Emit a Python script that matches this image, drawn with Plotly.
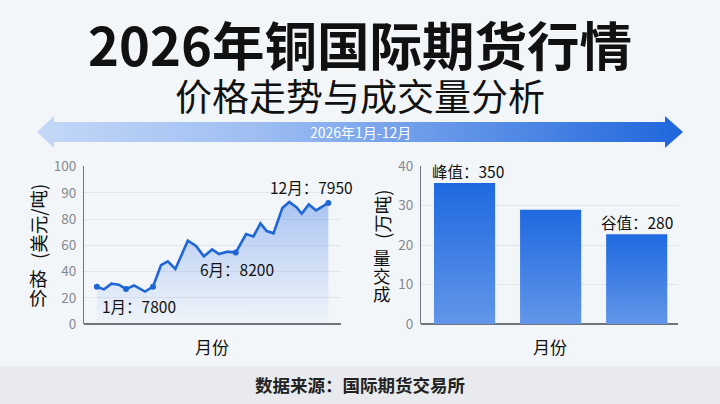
import plotly.graph_objects as go

# values
months = [0.99, 1.33, 1.68, 2.03, 2.37, 2.75, 3.27, 3.65, 4.03, 4.35, 4.71, 5.30, 5.69, 6.06,
          6.45, 6.78, 7.18, 7.57, 8.06, 8.41, 8.74, 9.04, 9.36, 9.78, 10.11, 10.46, 10.70, 11.03, 11.38, 11.96]
prices = [23.6, 21.9, 25.5, 24.9, 22.1, 24.4, 20.5, 23.6, 37.3, 39.7, 34.8, 52.7, 49.4, 42.8,
          47.2, 44.3, 45.8, 45.2, 56.9, 55.4, 63.7, 58.8, 57.4, 73.4, 77.2, 73.8, 69.8, 75.7, 71.9, 76.6]
volumes = [35.7, 28.9, 22.7]
bar_slots = [0, 1, 2]
price_ticks = [0, 20, 40, 60, 80, 90, 100]
price_tick_pos = [0, 16.6, 33.2, 49.8, 66.4, 83, 100]
volume_ticks = [0, 10, 20, 30, 40]
marked = [0, 4, 7, 17, 29]

TEXT = "#111111"
GREY = "#85898f"
FONT = "Noto Sans CJK SC"

fig = go.Figure()
fig.add_trace(go.Scatter(x=months, y=prices, mode="lines", fill="tozeroy",
                         line=dict(color="#1f66d6", width=2.6),
                         fillgradient=dict(type="vertical", colorscale=[[0, "rgba(120,165,240,0.03)"], [1, "rgba(96,145,235,0.5)"]]),
                         xaxis="x", yaxis="y", hoverinfo="skip"))
fig.add_trace(go.Scatter(x=[months[i] for i in marked], y=[prices[i] for i in marked], mode="markers",
                         marker=dict(color="#1f66d6", size=6), xaxis="x", yaxis="y"))
fig.add_trace(go.Bar(x=bar_slots, y=volumes, width=0.71, marker=dict(color="#1f69e0", line_width=0),
                     xaxis="x2", yaxis="y2"))
# lighter towards the foot of each bar
for slot, v in zip(bar_slots, volumes):
    fig.add_trace(go.Scatter(x=[slot - 0.355, slot - 0.355, slot + 0.355, slot + 0.355, slot - 0.355],
                             y=[0, v, v, 0, 0], mode="none", fill="toself",
                             fillgradient=dict(type="vertical", colorscale=[[0, "rgba(255,255,255,0.3)"], [1, "rgba(255,255,255,0)"]]),
                             xaxis="x2", yaxis="y2", hoverinfo="skip"))

# page overlay in pixels, for the arrow
arrow_x = [37, 54, 54, 665, 665, 683, 665, 665, 54, 54, 37]
arrow_y = [132, 116, 122, 122, 116, 132, 148, 142, 142, 148, 132]
fig.add_trace(go.Scatter(x=arrow_x, y=arrow_y, mode="none", fill="toself", xaxis="x3", yaxis="y3",
                         fillgradient=dict(type="horizontal", colorscale=[[0, "#c4d8f7"], [0.35, "#9dbdf2"], [1, "#1f66dc"]]),
                         hoverinfo="skip"))


def note(text, x, y, size, color=TEXT, bold=False, angle=0):
    fig.add_annotation(text=f"<b>{text}</b>" if bold else text, x=x, y=y, xref="x3", yref="y3", showarrow=False,
                       font=dict(family=FONT, size=size, color=color), textangle=angle, align="center")


note("2026年铜国际期货行情", 360, 43, 52.5, bold=True)
note("价格走势与成交量分析", 360, 95, 37)
note("2026年1月-12月", 360, 132, 14, color="#ffffff")
note("(美元/吨)", 38, 222, 18.5, angle=-90)
note("格", 38, 278, 18.5)
note("价", 38, 297, 18.5)
note("月份", 212, 346, 17)
note("1月：7800", 139, 306, 15.5)
note("6月：8200", 237, 269, 15.5)
note("12月：7950", 311, 187, 15.5)
note("(万吨)", 382, 214, 18.5, angle=-90)
note("量", 382, 257, 17.5)
note("交", 382, 275, 17.5)
note("成", 382, 293, 17.5)
note("月份", 550, 346, 17)
note("峰值：350", 468, 171, 15.5)
note("谷值：280", 637, 222, 15.5)
note("数据来源：国际期货交易所", 360, 384, 17.5, color="#222222", bold=True)

fig.update_layout(
    width=720, height=404, margin=dict(l=0, r=0, t=0, b=0, autoexpand=False), showlegend=False,
    paper_bgcolor="#f3f6f9", plot_bgcolor="rgba(0,0,0,0)",
    font=dict(family=FONT),
    xaxis=dict(domain=[84 / 720, 341 / 720], range=[0.38, 12.56], visible=False),
    yaxis=dict(domain=[80 / 404, 238 / 404], range=[0, 100], anchor="x", tickvals=price_tick_pos, ticktext=price_ticks,
               gridcolor="#e2e5e9", gridwidth=1, showline=True, linecolor="#70757c", ticks="", zeroline=True, zerolinecolor="#70757c",
               tickfont=dict(size=13.5, color=GREY), ticklabelstandoff=4),
    xaxis2=dict(domain=[421 / 720, 678 / 720], range=[-0.506, 2.48], visible=False, anchor="y2"),
    yaxis2=dict(domain=[80 / 404, 238 / 404], range=[0, 40], anchor="x2", tickvals=volume_ticks,
                gridcolor="#e2e5e9", gridwidth=1, showline=True, linecolor="#70757c", ticks="", zeroline=True, zerolinecolor="#70757c",
                tickfont=dict(size=13.5, color=GREY), ticklabelstandoff=4),
    xaxis3=dict(domain=[0, 1], range=[0, 720], visible=False, anchor="y3", fixedrange=True),
    yaxis3=dict(domain=[0, 1], range=[404, 0], visible=False, anchor="x3", fixedrange=True),
    shapes=[dict(type="rect", xref="paper", yref="paper", x0=0, x1=1, y0=0, y1=38 / 404, fillcolor="#e8eaed", line_width=0, layer="below")],
)

# the page's default body margin would shift everything by 8px
fig.write_html("out.html", config=dict(displayModeBar=False),
               post_script="document.body.style.margin='0';document.body.style.background='#f3f6f9';")
